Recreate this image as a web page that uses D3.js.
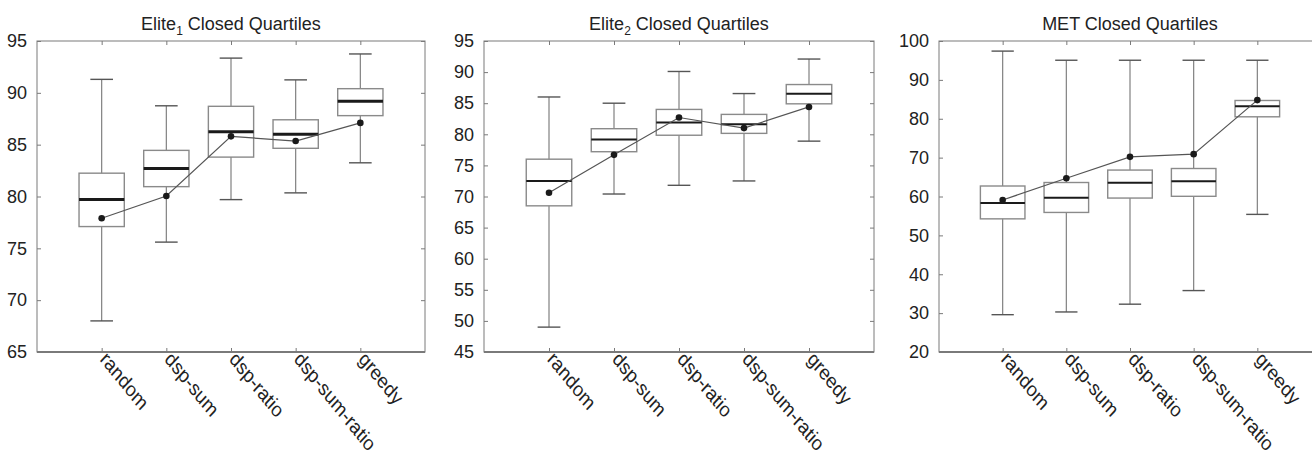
<!DOCTYPE html>
<html>
<head>
<meta charset="utf-8">
<script src="https://cdn.jsdelivr.net/npm/d3@7"></script>
<style>
  body { margin: 0; background: #fff; }
  text { font-family: "Liberation Sans", Arial, sans-serif; fill: #222; }
</style>
</head>
<body>
<svg id="chart" width="1312" height="455"></svg>
<script>
//data
const categories = ["random", "dsp-sum", "dsp-ratio", "dsp-sum-ratio", "greedy"];

const elite1Low  = [68.0, 75.6, 79.7, 80.35, 83.25];
const elite1Q1   = [77.1, 80.95, 83.8, 84.65, 87.8];
const elite1Med  = [79.7, 82.7, 86.25, 86.0, 89.2];
const elite1Q3   = [82.25, 84.45, 88.7, 87.4, 90.4];
const elite1High = [91.3, 88.75, 93.35, 91.25, 93.75];
const elite1Mean = [77.9, 80.05, 85.8, 85.35, 87.1];
const elite1Ticks = [65, 70, 75, 80, 85, 90, 95];

const elite2Low  = [49.0, 70.4, 71.8, 72.5, 78.9];
const elite2Q1   = [68.5, 77.2, 79.85, 80.15, 84.9];
const elite2Med  = [72.5, 79.15, 81.9, 81.6, 86.5];
const elite2Q3   = [76.0, 80.9, 84.0, 83.2, 88.0];
const elite2High = [86.0, 85.0, 90.1, 86.55, 92.1];
const elite2Mean = [70.6, 76.7, 82.7, 81.0, 84.4];
const elite2Ticks = [45, 50, 55, 60, 65, 70, 75, 80, 85, 90, 95];

const metLow  = [29.6, 30.3, 32.3, 35.8, 55.4];
const metQ1   = [54.25, 55.9, 59.6, 60.05, 80.5];
const metMed  = [58.3, 59.7, 63.55, 63.9, 83.2];
const metQ3   = [62.7, 63.6, 66.8, 67.2, 84.7];
const metHigh = [97.4, 95.05, 95.05, 95.05, 95.05];
const metMean = [59.1, 64.7, 70.2, 70.9, 84.8];
const metTicks = [20, 30, 40, 50, 60, 70, 80, 90, 100];

//panels
const panels = [
  {title: "Elite", sub: "1", left: 37, right: 425, domain: [65, 95], ticks: elite1Ticks,
   low: elite1Low, q1: elite1Q1, med: elite1Med, q3: elite1Q3, high: elite1High, mean: elite1Mean, medW: 3},
  {title: "Elite", sub: "2", left: 484, right: 874, domain: [45, 95], ticks: elite2Ticks,
   low: elite2Low, q1: elite2Q1, med: elite2Med, q3: elite2Q3, high: elite2High, mean: elite2Mean, medW: 2},
  {title: "MET", sub: "", left: 939, right: 1321, domain: [20, 100], ticks: metTicks,
   low: metLow, q1: metQ1, med: metMed, q3: metQ3, high: metHigh, mean: metMean, medW: 2}
];

const plotTop = 41, plotBottom = 352;
const boxW = 0.7, capW = 0.35;
const frameColor = "#7a7a7a";

const svg = d3.select("#chart");

panels.forEach(function(p) {
  const g = svg.append("g");

  const x = d3.scaleLinear().domain([0, categories.length + 1]).range([p.left, p.right]);
  const y = d3.scaleLinear().domain(p.domain).range([plotBottom, plotTop]);
  const u = x(1) - x(0);

  //frame
  g.append("rect")
    .attr("x", p.left).attr("y", plotTop)
    .attr("width", p.right - p.left).attr("height", plotBottom - plotTop)
    .attr("fill", "none").attr("stroke", frameColor).attr("stroke-width", 1);
  g.append("line")
    .attr("x1", p.left).attr("x2", p.right).attr("y1", plotBottom).attr("y2", plotBottom)
    .attr("stroke", frameColor).attr("stroke-width", 2);

  //axes
  const yAxis = d3.axisLeft(y).tickValues(p.ticks).tickSize(-4).tickPadding(10).tickSizeOuter(0);
  const gY = g.append("g").attr("transform", "translate(" + p.left + ",0)").call(yAxis);
  gY.select(".domain").remove();
  gY.selectAll(".tick line").attr("stroke", frameColor);
  gY.selectAll("text").style("font-size", "18px").attr("fill", "#222");

  const yAxisR = d3.axisRight(y).tickValues(p.ticks).tickSize(-4).tickFormat("").tickSizeOuter(0);
  const gYR = g.append("g").attr("transform", "translate(" + p.right + ",0)").call(yAxisR);
  gYR.select(".domain").remove();
  gYR.selectAll(".tick line").attr("stroke", frameColor);

  const idx = d3.range(1, categories.length + 1);
  const xAxisTop = d3.axisTop(x).tickValues(idx).tickSize(-4).tickFormat("").tickSizeOuter(0);
  const gXT = g.append("g").attr("transform", "translate(0," + plotTop + ")").call(xAxisTop);
  gXT.select(".domain").remove();
  gXT.selectAll(".tick line").attr("stroke", frameColor);

  const xAxis = d3.axisBottom(x).tickValues(idx).tickSize(-4)
    .tickFormat(d => categories[d - 1]).tickSizeOuter(0);
  const gX = g.append("g").attr("transform", "translate(0," + plotBottom + ")").call(xAxis);
  gX.select(".domain").remove();
  gX.selectAll(".tick line").attr("stroke", frameColor);
  gX.selectAll("text")
    .style("font-size", "18px")
    .attr("fill", "#222")
    .attr("text-anchor", "start")
    .attr("x", 0).attr("y", 0).attr("dy", "0")
    .attr("transform", "translate(-3,8) scale(1,1.15) rotate(47)");

  //title
  const t = g.append("text")
    .attr("x", (p.left + p.right) / 2)
    .attr("y", 30)
    .attr("text-anchor", "middle")
    .style("font-size", "18px");
  t.append("tspan").text(p.title);
  if (p.sub) {
    t.append("tspan").attr("dy", 5).style("font-size", "12px").text(p.sub);
    t.append("tspan").attr("dy", -5).text(" Closed Quartiles");
  } else {
    t.append("tspan").text(" Closed Quartiles");
  }

  //boxes
  const rows = categories.map((c, i) => ({
    i: i + 1, low: p.low[i], q1: p.q1[i], med: p.med[i], q3: p.q3[i], high: p.high[i], mean: p.mean[i]
  }));

  const box = g.append("g").selectAll("g").data(rows).enter().append("g");

  box.append("line")
    .attr("x1", d => x(d.i)).attr("x2", d => x(d.i))
    .attr("y1", d => y(d.high)).attr("y2", d => y(d.q3))
    .attr("stroke", "#808080").attr("stroke-width", 1.2);
  box.append("line")
    .attr("x1", d => x(d.i)).attr("x2", d => x(d.i))
    .attr("y1", d => y(d.q1)).attr("y2", d => y(d.low))
    .attr("stroke", "#808080").attr("stroke-width", 1.2);
  box.append("line")
    .attr("x1", d => x(d.i) - capW * u / 2).attr("x2", d => x(d.i) + capW * u / 2)
    .attr("y1", d => y(d.high)).attr("y2", d => y(d.high))
    .attr("stroke", "#555").attr("stroke-width", 1.4);
  box.append("line")
    .attr("x1", d => x(d.i) - capW * u / 2).attr("x2", d => x(d.i) + capW * u / 2)
    .attr("y1", d => y(d.low)).attr("y2", d => y(d.low))
    .attr("stroke", "#555").attr("stroke-width", 1.4);
  box.append("rect")
    .attr("x", d => x(d.i) - boxW * u / 2)
    .attr("width", boxW * u)
    .attr("y", d => y(d.q3))
    .attr("height", d => y(d.q1) - y(d.q3))
    .attr("fill", "none").attr("stroke", "#8a8a8a").attr("stroke-width", 1.4);
  box.append("line")
    .attr("x1", d => x(d.i) - boxW * u / 2).attr("x2", d => x(d.i) + boxW * u / 2)
    .attr("y1", d => y(d.med)).attr("y2", d => y(d.med))
    .attr("stroke", "#1a1a1a").attr("stroke-width", p.medW);

  //mean line
  const line = d3.line().x(d => x(d.i)).y(d => y(d.mean));
  g.append("path")
    .datum(rows)
    .attr("d", line)
    .attr("fill", "none").attr("stroke", "#555").attr("stroke-width", 1.2);
  g.append("g").selectAll("circle").data(rows).enter().append("circle")
    .attr("cx", d => x(d.i)).attr("cy", d => y(d.mean)).attr("r", 3.3)
    .attr("fill", "#1a1a1a");
});
</script>
</body>
</html>
